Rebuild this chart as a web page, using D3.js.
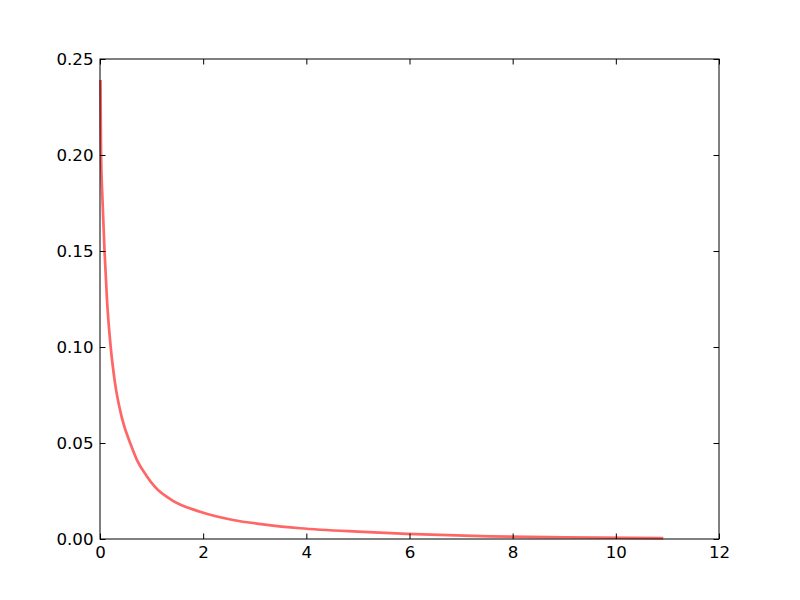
<!DOCTYPE html>
<html>
<head>
<meta charset="utf-8">
<script src="https://cdn.jsdelivr.net/npm/d3@7"></script>
<style>
body{margin:0;background:#fff;}
text{font-family:"DejaVu Sans";}
</style>
</head>
<body>
<svg id="chart" width="800" height="600"></svg>
<script>
const xValues = [0.0097, 0.0194, 0.0485, 0.0872, 0.1357, 0.2074, 0.2908, 0.4207, 0.6145, 0.7173, 0.9, 1.066, 1.39, 1.94, 2.58, 3.2, 3.88, 5.0, 5.95, 7.56, 9.0, 10.92];
const yValues = [0.2391, 0.2026, 0.1766, 0.1505, 0.1245, 0.1000, 0.0813, 0.0635, 0.0479, 0.0411, 0.033, 0.0271, 0.0203, 0.0142, 0.0099, 0.0075, 0.0056, 0.0038, 0.0027, 0.0014, 0.0009, 0.0005];
const xTicks = [0, 2, 4, 6, 8, 10, 12];
const yTicks = [0, 0.05, 0.10, 0.15, 0.20, 0.25];

const svg = d3.select("#chart");
const L = 100, R = 719, T = 59, B = 539;
const x = d3.scaleLinear().domain([0, 12]).range([L, R]);
const y = d3.scaleLinear().domain([0, 0.25]).range([B, T]);

const data = xValues.map((v, i) => [v, yValues[i]]);
svg.append("path").datum(data)
  .attr("fill", "none").attr("stroke", "#ff6666").attr("stroke-width", 2.7)
  .attr("d", d3.line().x(d => x(d[0])).y(d => y(d[1])).curve(d3.curveMonotoneX));

const tl = 5.5;
const fs = 16.67;
const ax = (g, axis) => { g.call(axis); g.select(".domain").remove(); g.selectAll("text").attr("font-family", "DejaVu Sans").attr("font-size", fs).attr("fill", "#000"); g.selectAll("line").attr("stroke", "#000"); };

svg.append("g").attr("transform", `translate(0,${B})`)
  .call(g => ax(g, d3.axisBottom(x).tickValues(xTicks).tickFormat(d3.format("d")).tickSize(-tl).tickPadding(7)));
svg.append("g").attr("transform", `translate(0,${T})`)
  .call(g => ax(g, d3.axisTop(x).tickValues(xTicks).tickFormat("").tickSize(-tl)));
svg.append("g").attr("transform", `translate(${L},0)`)
  .call(g => ax(g, d3.axisLeft(y).tickValues(yTicks).tickFormat(d3.format(".2f")).tickSize(-tl).tickPadding(6.5)));
svg.append("g").attr("transform", `translate(${R},0)`)
  .call(g => ax(g, d3.axisRight(y).tickValues(yTicks).tickFormat("").tickSize(-tl)));

svg.append("rect").attr("x", L).attr("y", T).attr("width", R - L).attr("height", B - T)
  .attr("fill", "none").attr("stroke", "#000").attr("stroke-width", 1);
</script>
</body>
</html>
